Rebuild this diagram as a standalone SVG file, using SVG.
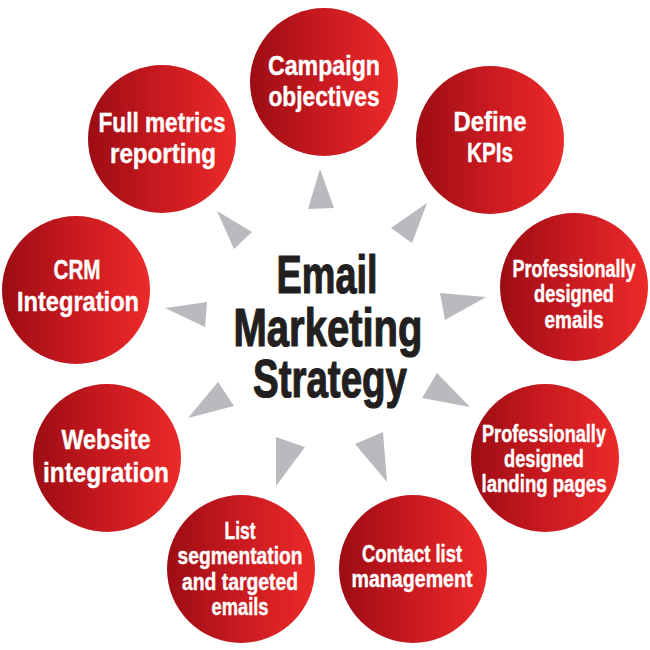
<svg xmlns="http://www.w3.org/2000/svg" width="650" height="650" viewBox="0 0 650 650">
  <defs>
    <linearGradient id="redGrad" x1="0" y1="0" x2="1" y2="0">
      <stop offset="0" stop-color="#9c0d13"/>
      <stop offset="0.5" stop-color="#c91a20"/>
      <stop offset="1" stop-color="#ec2a2a"/>
    </linearGradient>
  </defs>
  <style>
    .bubble { fill: url(#redGrad); }
    .lbl { fill: #ffffff; font-family: "Liberation Sans Narrow", "Liberation Sans", Arial, sans-serif; font-weight: bold; text-anchor: middle; stroke: #ffffff; stroke-width: 0.4; }
    .big { font-size: 28px; }
    .small { font-size: 23px; }
    .title { fill: #231f20; font-family: "Liberation Sans Narrow", "Liberation Sans", Arial, sans-serif; font-weight: bold; font-size: 53px; text-anchor: middle; stroke: #231f20; stroke-width: 1.2; stroke-linejoin: round; }
    .arrow { fill: #b9babe; }
  </style>
  <rect x="0" y="0" width="650" height="650" fill="#ffffff"/>

  <g id="connectors">
    <polygon class="arrow" points="320,169 308,209 334,208"/>
    <polygon class="arrow" points="427,203 391,228 412,243"/>
    <polygon class="arrow" points="486,297 440,293 445,320"/>
    <polygon class="arrow" points="470,407 422,398 437,373"/>
    <polygon class="arrow" points="387,482 355,444 383,432"/>
    <polygon class="arrow" points="276,486 276,437 305,447"/>
    <polygon class="arrow" points="188,418 218,382 234,406"/>
    <polygon class="arrow" points="165,308 207,302 205,327"/>
    <polygon class="arrow" points="217,211 252,232 234,249"/>
  </g>

  <g id="center">
    <text class="title" x="327" y="293" textLength="101" lengthAdjust="spacingAndGlyphs">Email</text>
    <text class="title" x="328" y="346" textLength="189" lengthAdjust="spacingAndGlyphs">Marketing</text>
    <text class="title" x="330" y="397" textLength="154" lengthAdjust="spacingAndGlyphs">Strategy</text>
  </g>

  <g id="campaign-objectives">
    <circle class="bubble" cx="324" cy="82" r="74"/>
    <text class="lbl big" x="324" y="75" textLength="112" lengthAdjust="spacingAndGlyphs">Campaign</text>
    <text class="lbl big" x="324" y="106" textLength="111" lengthAdjust="spacingAndGlyphs">objectives</text>
  </g>

  <g id="define-kpis">
    <circle class="bubble" cx="490" cy="140" r="74"/>
    <text class="lbl big" x="490" y="131" textLength="73" lengthAdjust="spacingAndGlyphs">Define</text>
    <text class="lbl big" x="490" y="162" textLength="46" lengthAdjust="spacingAndGlyphs">KPIs</text>
  </g>

  <g id="professionally-designed-emails">
    <circle class="bubble" cx="574" cy="287" r="74"/>
    <text class="lbl small" x="574" y="277" textLength="123" lengthAdjust="spacingAndGlyphs">Professionally</text>
    <text class="lbl small" x="574" y="302" textLength="80" lengthAdjust="spacingAndGlyphs">designed</text>
    <text class="lbl small" x="574" y="328" textLength="59" lengthAdjust="spacingAndGlyphs">emails</text>
  </g>

  <g id="professionally-designed-landing-pages">
    <circle class="bubble" cx="545" cy="458" r="74"/>
    <text class="lbl small" x="544" y="442" textLength="124" lengthAdjust="spacingAndGlyphs">Professionally</text>
    <text class="lbl small" x="544" y="467" textLength="80" lengthAdjust="spacingAndGlyphs">designed</text>
    <text class="lbl small" x="544" y="492" textLength="125" lengthAdjust="spacingAndGlyphs">landing pages</text>
  </g>

  <g id="contact-list-management">
    <circle class="bubble" cx="413" cy="569" r="74"/>
    <text class="lbl small" x="412" y="562" textLength="100" lengthAdjust="spacingAndGlyphs">Contact list</text>
    <text class="lbl small" x="412" y="587" textLength="121" lengthAdjust="spacingAndGlyphs">management</text>
  </g>

  <g id="list-segmentation">
    <circle class="bubble" cx="241" cy="569" r="74"/>
    <text class="lbl small" x="240" y="539" textLength="31" lengthAdjust="spacingAndGlyphs">List</text>
    <text class="lbl small" x="240" y="564" textLength="125" lengthAdjust="spacingAndGlyphs">segmentation</text>
    <text class="lbl small" x="240" y="590" textLength="116" lengthAdjust="spacingAndGlyphs">and targeted</text>
    <text class="lbl small" x="240" y="615" textLength="57" lengthAdjust="spacingAndGlyphs">emails</text>
  </g>

  <g id="website-integration">
    <circle class="bubble" cx="107" cy="458" r="74"/>
    <text class="lbl big" x="106" y="449" textLength="89" lengthAdjust="spacingAndGlyphs">Website</text>
    <text class="lbl big" x="106" y="482" textLength="126" lengthAdjust="spacingAndGlyphs">integration</text>
  </g>

  <g id="crm-integration">
    <circle class="bubble" cx="76" cy="290" r="74"/>
    <text class="lbl big" x="77" y="279" textLength="47" lengthAdjust="spacingAndGlyphs">CRM</text>
    <text class="lbl big" x="78" y="311" textLength="122" lengthAdjust="spacingAndGlyphs">Integration</text>
  </g>

  <g id="full-metrics-reporting">
    <circle class="bubble" cx="162" cy="139" r="74"/>
    <text class="lbl big" x="162" y="132" textLength="127" lengthAdjust="spacingAndGlyphs">Full metrics</text>
    <text class="lbl big" x="163" y="163" textLength="106" lengthAdjust="spacingAndGlyphs">reporting</text>
  </g>
</svg>
